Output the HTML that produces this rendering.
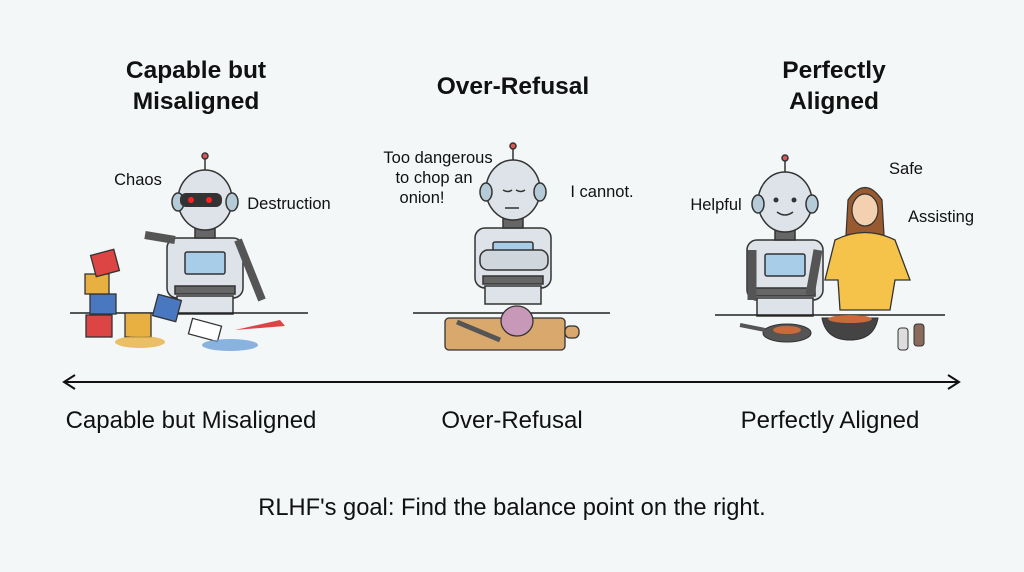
<!DOCTYPE html>
<html><head><style>
html,body{margin:0;padding:0;background:#f4f7f8;}
svg{display:block}
text{font-family:"Liberation Sans",sans-serif;fill:#111}
</style></head><body>
<svg width="1024" height="572" viewBox="0 0 1024 572" xmlns="http://www.w3.org/2000/svg">
<rect width="1024" height="572" fill="#f4f7f8"/>
<defs>
<g id="robot" stroke="#333" stroke-width="1.5">
  <line x1="0" y1="-42" x2="0" y2="-30"/>
  <circle cx="0" cy="-44" r="3" fill="#d55" />
  <rect x="-38" y="38" width="76" height="60" rx="10" fill="#dde3e8"/>
  <rect x="-20" y="52" width="40" height="22" rx="2" fill="#a8cde8"/>
  <rect x="-30" y="86" width="60" height="8" fill="#666"/>
  <rect x="-28" y="96" width="56" height="18" fill="#dde3e8"/>
  <rect x="-10" y="22" width="20" height="16" fill="#666"/>
  <ellipse cx="0" cy="0" rx="27" ry="30" fill="#dde3e8"/>
  <ellipse cx="27" cy="2" rx="6" ry="9" fill="#b5ccd8"/>
  <ellipse cx="-27" cy="2" rx="6" ry="9" fill="#b5ccd8"/>
</g>
</defs>

<text x="196" y="78" font-size="24.5" font-weight="bold" text-anchor="middle">Capable but</text>
<text x="196" y="109" font-size="24.5" font-weight="bold" text-anchor="middle">Misaligned</text>
<text x="513" y="94" font-size="24.5" font-weight="bold" text-anchor="middle">Over-Refusal</text>
<text x="834" y="78" font-size="24.5" font-weight="bold" text-anchor="middle">Perfectly</text>
<text x="834" y="109" font-size="24.5" font-weight="bold" text-anchor="middle">Aligned</text>

<!-- panel 1 -->
<text x="138" y="185" font-size="16.5" text-anchor="middle">Chaos</text>
<text x="289" y="209" font-size="16.5" text-anchor="middle">Destruction</text>
<use href="#robot" x="205" y="200"/>
<rect x="180" y="193" width="42" height="14" rx="6" fill="#333"/>
<circle cx="191" cy="200" r="3" fill="#f22"/><circle cx="209" cy="200" r="3" fill="#f22"/>
<line x1="175" y1="240" x2="145" y2="235" stroke="#555" stroke-width="8"/>
<line x1="238" y1="240" x2="262" y2="300" stroke="#555" stroke-width="8"/>
<line x1="70" y1="313" x2="308" y2="313" stroke="#222" stroke-width="1.5"/>
<g stroke="#333" stroke-width="1.3">
<rect x="86" y="315" width="26" height="22" fill="#d44"/>
<rect x="90" y="294" width="26" height="20" fill="#4a78c0"/>
<rect x="85" y="274" width="24" height="20" fill="#e8b040"/>
<rect x="93" y="252" width="24" height="22" fill="#d44" transform="rotate(-15 105 263)"/>
<rect x="125" y="313" width="26" height="24" fill="#e8b040"/>
<rect x="155" y="297" width="24" height="22" fill="#4a78c0" transform="rotate(15 167 308)"/>
<rect x="190" y="322" width="30" height="16" fill="#fff" transform="rotate(15 205 330)"/>
</g>
<ellipse cx="140" cy="342" rx="25" ry="6" fill="#e8b040" opacity=".8"/>
<ellipse cx="230" cy="345" rx="28" ry="6" fill="#6ea0d8" opacity=".8"/>
<path d="M235 330 L280 320 L285 326 Z" fill="#d44"/>

<!-- panel 2 -->
<text x="438" y="163" font-size="16.5" text-anchor="middle">Too dangerous</text>
<text x="434" y="183" font-size="16.5" text-anchor="middle">to chop an</text>
<text x="422" y="203" font-size="16.5" text-anchor="middle">onion!</text>
<text x="602" y="197" font-size="16.5" text-anchor="middle">I cannot.</text>
<use href="#robot" x="513" y="190"/>
<path d="M503 190 q5 3 9 0 M516 190 q5 3 9 0 M505 208 h14" stroke="#333" stroke-width="1.5" fill="none"/>
<rect x="480" y="250" width="68" height="20" rx="8" fill="#cfd6dc" stroke="#333" stroke-width="1.5"/>
<line x1="413" y1="313" x2="610" y2="313" stroke="#222" stroke-width="1.5"/>
<rect x="445" y="318" width="120" height="32" rx="4" fill="#d9a86c" stroke="#333" stroke-width="1.3"/>
<rect x="565" y="326" width="14" height="12" rx="5" fill="#d9a86c" stroke="#333" stroke-width="1.3"/>
<path d="M457 322 L500 340" stroke="#555" stroke-width="5"/>
<ellipse cx="517" cy="321" rx="16" ry="15" fill="#c898b8" stroke="#333" stroke-width="1.3"/>

<!-- panel 3 -->
<text x="716" y="210" font-size="16.5" text-anchor="middle">Helpful</text>
<text x="906" y="174" font-size="16.5" text-anchor="middle">Safe</text>
<text x="941" y="222" font-size="16.5" text-anchor="middle">Assisting</text>
<use href="#robot" x="785" y="202"/>
<circle cx="776" cy="200" r="2.5" fill="#333"/><circle cx="794" cy="200" r="2.5" fill="#333"/>
<path d="M777 212 q8 6 16 0" stroke="#333" stroke-width="1.5" fill="none"/>
<line x1="752" y1="250" x2="752" y2="300" stroke="#555" stroke-width="9"/>
<line x1="818" y1="250" x2="810" y2="295" stroke="#555" stroke-width="9"/>
<path d="M848 200 q17 -25 34 0 l2 35 h-38 z" fill="#9a5a30" stroke="#333" stroke-width="1.2"/>
<ellipse cx="865" cy="210" rx="13" ry="16" fill="#f3d0b0" stroke="#333" stroke-width="1.2"/>
<path d="M835 240 q30 -15 60 0 l15 40 h-15 l-5 30 h-50 l-2 -30 h-13 z" fill="#f5c24a" stroke="#333" stroke-width="1.3"/>
<line x1="715" y1="315" x2="945" y2="315" stroke="#222" stroke-width="1.5"/>
<ellipse cx="787" cy="333" rx="24" ry="9" fill="#555" stroke="#333"/>
<line x1="740" y1="325" x2="765" y2="330" stroke="#555" stroke-width="4"/>
<ellipse cx="787" cy="330" rx="14" ry="4" fill="#c86a3a"/>
<path d="M822 318 h56 q-4 22 -28 22 q-24 0 -28 -22z" fill="#444" stroke="#333"/>
<ellipse cx="850" cy="319" rx="22" ry="4" fill="#c86a3a"/>
<rect x="898" y="328" width="10" height="22" rx="3" fill="#ddd" stroke="#333"/>
<rect x="914" y="324" width="10" height="22" rx="3" fill="#8a6a5a" stroke="#333"/>

<!-- axis -->
<line x1="65" y1="382" x2="958" y2="382" stroke="#111" stroke-width="2"/>
<path d="M75 375 L64 382 L75 389" stroke="#111" stroke-width="2" fill="none"/>
<path d="M948 375 L959 382 L948 389" stroke="#111" stroke-width="2" fill="none"/>
<text x="191" y="428" font-size="24" text-anchor="middle">Capable but Misaligned</text>
<text x="512" y="428" font-size="24" text-anchor="middle">Over-Refusal</text>
<text x="830" y="428" font-size="24" text-anchor="middle">Perfectly Aligned</text>
<text x="512" y="515" font-size="23.7" text-anchor="middle">RLHF's goal: Find the balance point on the right.</text>
</svg>
</body></html>
